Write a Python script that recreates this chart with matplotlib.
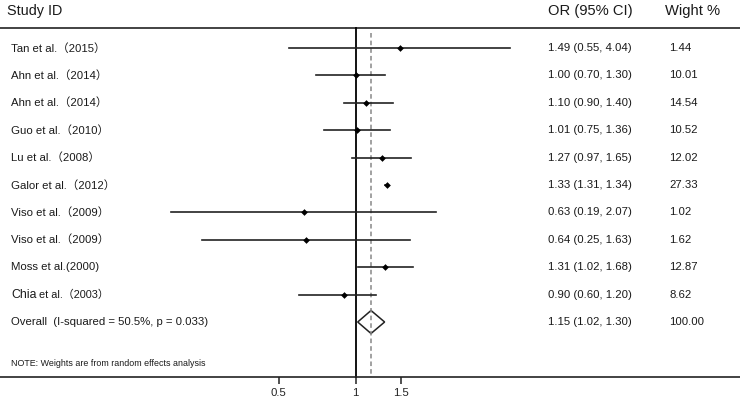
import matplotlib
matplotlib.use('Agg')
import matplotlib.pyplot as plt
import matplotlib.transforms as mtransforms
from matplotlib.patches import Polygon
from matplotlib.ticker import NullLocator
import numpy as np

plt.rcParams['font.family'] = ['Liberation Sans', 'Noto Sans CJK SC', 'DejaVu Sans']

# ---------------- data ----------------
studies = ["Tan et al.（2015）", "Ahn et al.（2014）", "Ahn et al.（2014）",
           "Guo et al.（2010）", "Lu et al.（2008）", "Galor et al.（2012）",
           "Viso et al.（2009）", "Viso et al.（2009）", "Moss et al.(2000)",
           "Chia et al.（2003）"]
or_est = [1.49, 1.00, 1.10, 1.01, 1.27, 1.33, 0.63, 0.64, 1.31, 0.90]
ci_low = [0.55, 0.70, 0.90, 0.75, 0.97, 1.31, 0.19, 0.25, 1.02, 0.60]
ci_high = [4.04, 1.30, 1.40, 1.36, 1.65, 1.34, 2.07, 1.63, 1.68, 1.20]
weights = [1.44, 10.01, 14.54, 10.52, 12.02, 27.33, 1.02, 1.62, 12.87, 8.62]
overall_est, overall_low, overall_high = 1.15, 1.02, 1.30
overall_weight = 100.00
overall_label = "Overall  (I-squared = 50.5%, p = 0.033)"
note_text = "NOTE: Weights are from random effects analysis"
xtick_vals = [0.5, 1, 1.5]
xtick_labels = ["0.5", "1", "1.5"]

# ---------------- layout ----------------
W, H = 740, 401
fig = plt.figure(figsize=(W / 100, H / 100), dpi=100)
ax = fig.add_axes([0, 0, 1, 1])
ax.set_xscale('log')
px_per = 111.0
x1_px = 355.5
ax.set_xlim(np.exp(-x1_px / px_per), np.exp((W - x1_px) / px_per))
row0, dy = 48.0, 27.4
ax.set_ylim((H - row0) / dy, -row0 / dy)


def prow(p):
    return (p - row0) / dy


def fx(p):
    return p / W


bt = mtransforms.blended_transform_factory(ax.transAxes, ax.transData)
txt_col = '#1a1a1a'
fs = 8.2

# header
ax.text(fx(7), prow(11), "Study ID", transform=bt, fontsize=10.4, va='center', ha='left', color=txt_col)
ax.text(fx(548), prow(11), "OR (95% CI)", transform=bt, fontsize=10.6, va='center', ha='left', color=txt_col)
ax.text(fx(665), prow(11), "Wight %", transform=bt, fontsize=10.6, va='center', ha='left', color=txt_col)
ax.axhline(prow(28), color='#222222', lw=1.2)

# reference lines
ax.plot([1, 1], [prow(28), prow(377)], color='black', lw=1.3)
ax.plot([overall_est, overall_est], [prow(33), prow(377)], color='#888888', lw=1.1,
        dashes=(3, 2))

# studies
n = len(studies)
rows = np.arange(n)
for i in range(n):
    ax.plot([ci_low[i], ci_high[i]], [rows[i], rows[i]], color='#222222', lw=1.2)
    ax.plot(or_est[i], rows[i], marker='D', ms=3.4, color='black', mew=0)
    lab = studies[i]
    if lab.startswith("Chia"):
        ax.text(fx(11), rows[i], "Chia", transform=bt, fontsize=fs + 0.6, va='center', ha='left', color=txt_col)
        ax.text(fx(39), rows[i], lab[5:], transform=bt, fontsize=fs - 0.4, va='center', ha='left', color=txt_col)
    else:
        ax.text(fx(11), rows[i], lab, transform=bt, fontsize=fs, va='center', ha='left', color=txt_col)
    ax.text(fx(548), rows[i], f"{or_est[i]:.2f} ({ci_low[i]:.2f}, {ci_high[i]:.2f})",
            transform=bt, fontsize=fs, va='center', ha='left', color=txt_col)
    ax.text(fx(669), rows[i], f"{weights[i]:.2f}", transform=bt, fontsize=fs,
            va='center', ha='left', color=txt_col)

# overall diamond
orow = n
h = 11.5 / dy
diamond = Polygon([(overall_low, orow), (overall_est, orow - h), (overall_high, orow),
                   (overall_est, orow + h)], closed=True, fill=False, edgecolor='#222222', lw=1.1)
ax.add_patch(diamond)
ax.text(fx(11), orow, overall_label, transform=bt, fontsize=fs, va='center', ha='left', color=txt_col)
ax.text(fx(548), orow, f"{overall_est:.2f} ({overall_low:.2f}, {overall_high:.2f})",
        transform=bt, fontsize=fs, va='center', ha='left', color=txt_col)
ax.text(fx(669), orow, f"{overall_weight:.2f}", transform=bt, fontsize=fs,
        va='center', ha='left', color=txt_col)

ax.text(fx(11), prow(363), note_text, transform=bt, fontsize=6.4, va='center', ha='left', color=txt_col)

# axis
for s in ['top', 'left', 'right']:
    ax.spines[s].set_visible(False)
ax.spines['bottom'].set_position(('data', prow(377)))
ax.spines['bottom'].set_color('#222222')
ax.spines['bottom'].set_linewidth(1.2)
ax.set_xticks(xtick_vals)
ax.set_xticklabels(xtick_labels)
ax.xaxis.set_minor_locator(NullLocator())
ax.tick_params(axis='x', direction='out', length=5, width=1.1, labelsize=fs, pad=3, colors='#222222')
ax.set_yticks([])
ax.patch.set_alpha(0)

fig.savefig('out.png', dpi=100, facecolor='white')
